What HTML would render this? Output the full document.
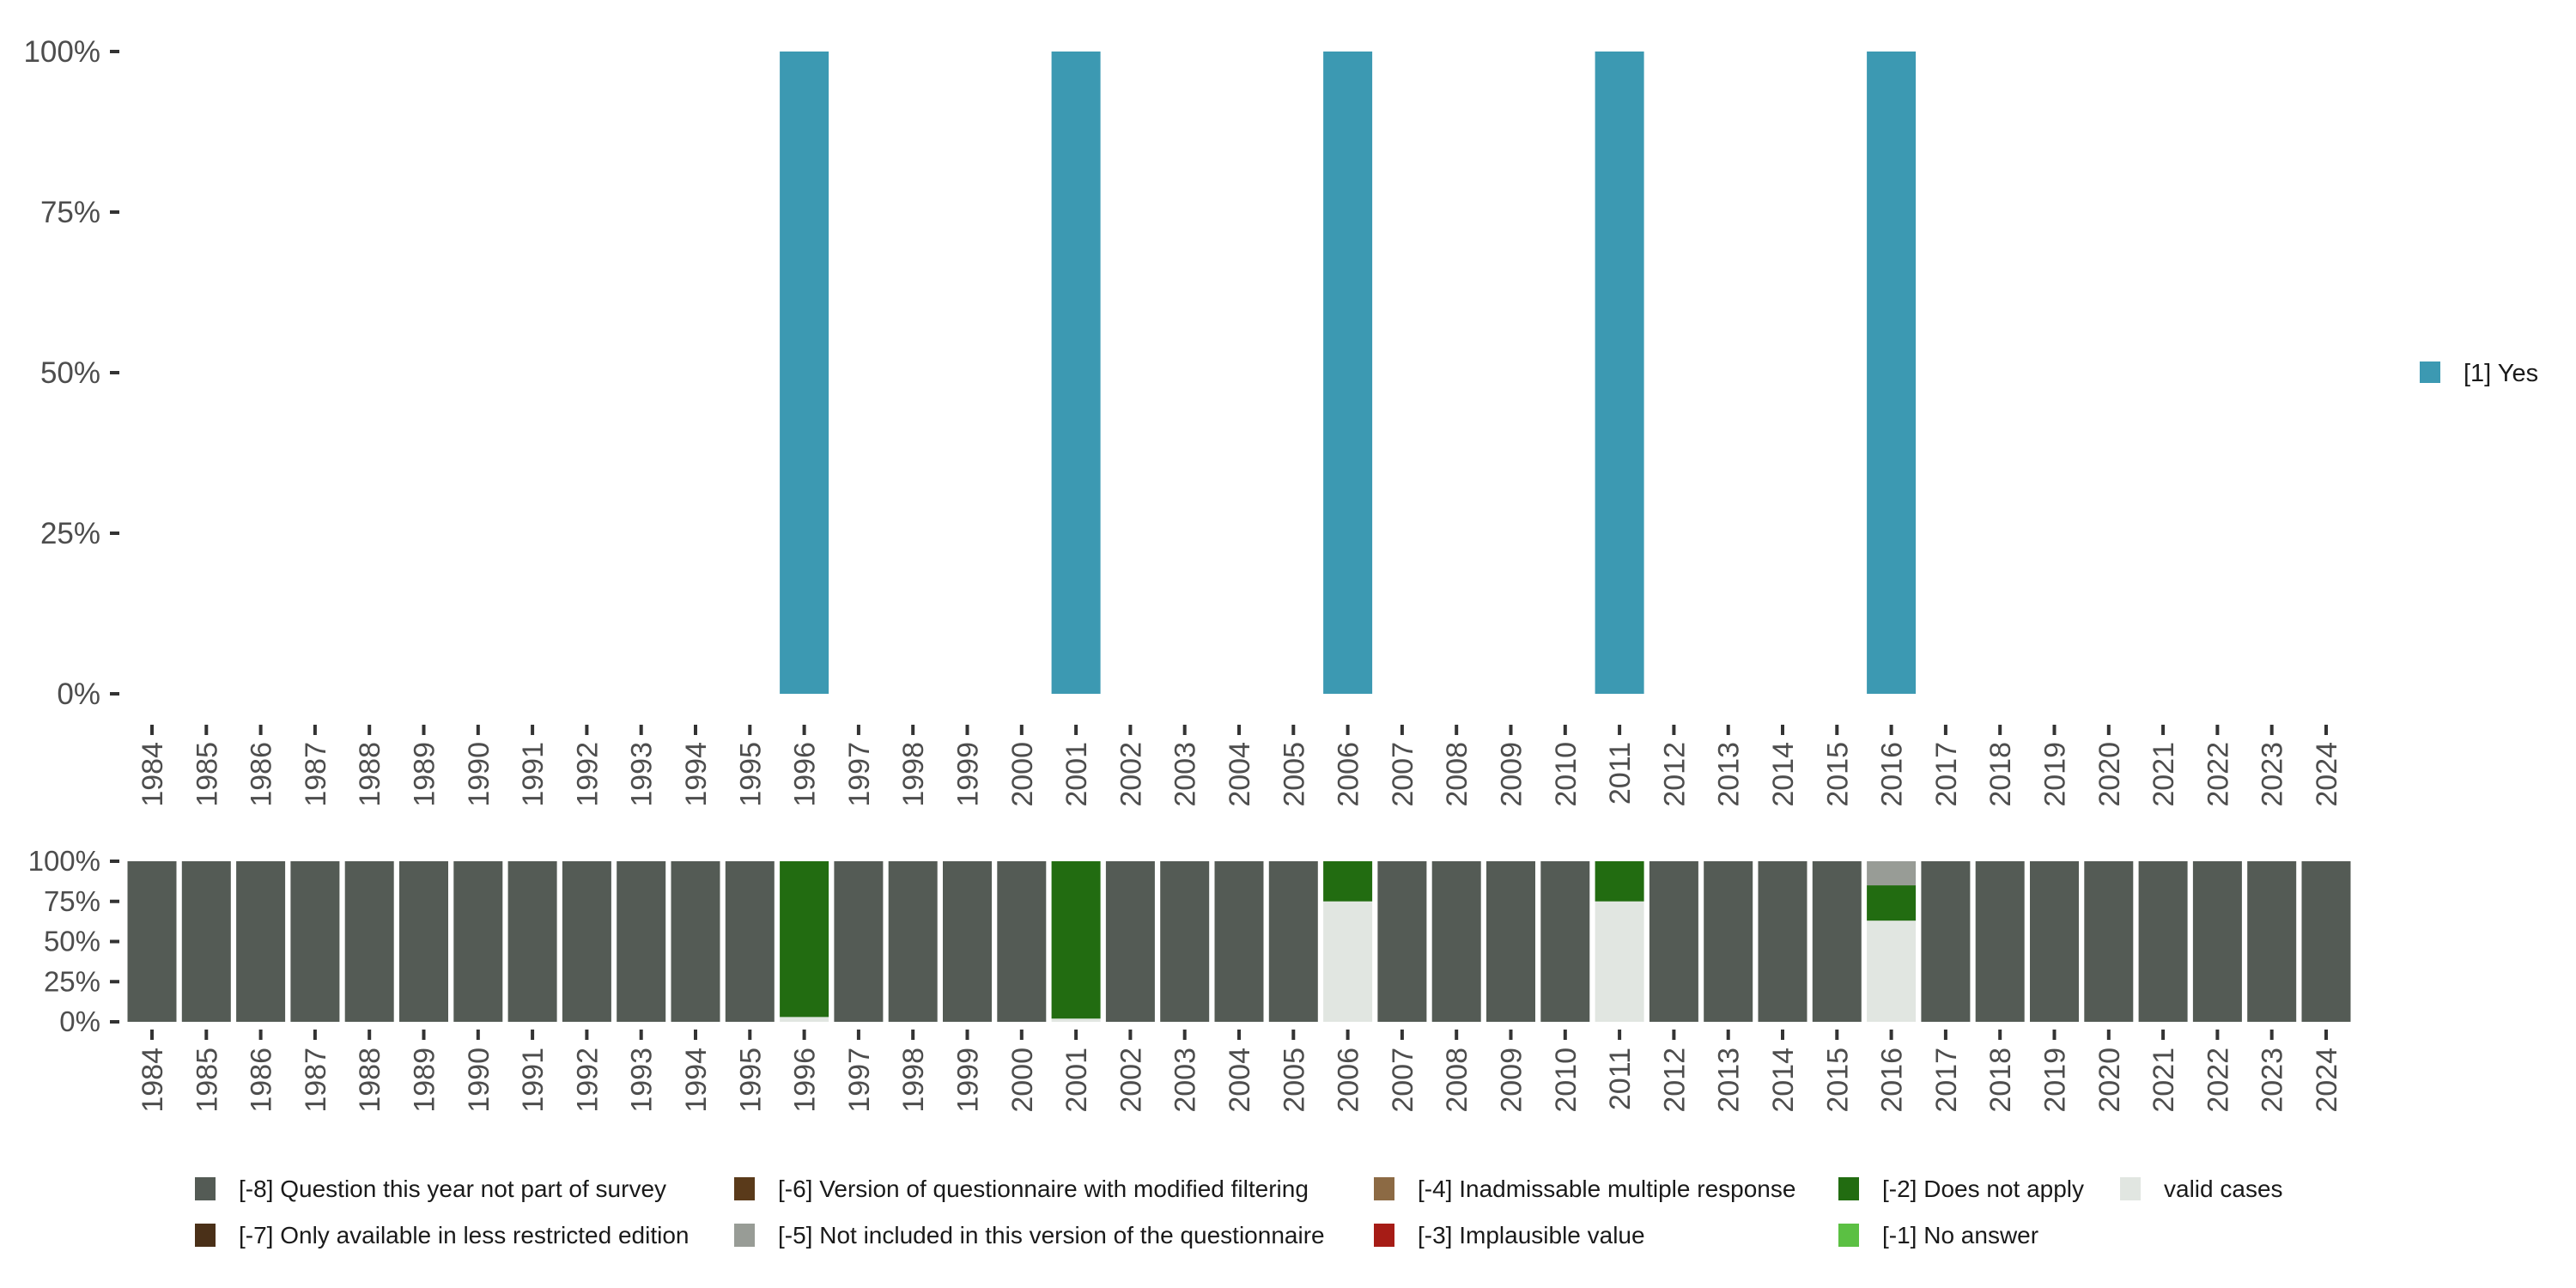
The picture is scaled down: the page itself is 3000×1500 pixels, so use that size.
<!DOCTYPE html>
<html><head><meta charset="utf-8"><style>
html,body{margin:0;padding:0;background:#fff;}
svg{display:block;font-family:"Liberation Sans",sans-serif;}
</style></head><body>
<svg id="chart" width="3000" height="1500" viewBox="0 0 3000 1500" xmlns="http://www.w3.org/2000/svg"></svg>
<script>
const years = [];
for (let y = 1984; y <= 2024; y++) years.push(y);
const yesYears = [1996, 2001, 2006, 2011, 2016];
const yesValues = [1, 1, 1, 1, 1];
const missYears = [1996, 2001, 2006, 2011, 2016];
const validValues = [0.03, 0.02, 0.75, 0.75, 0.63];
const doesNotApplyValues = [0.97, 0.98, 0.25, 0.25, 0.22];
const notIncludedValues = [0, 0, 0, 0, 0.15];
const yTickValues = [0, 0.25, 0.5, 0.75, 1];
const yTickLabels = ["0%", "25%", "50%", "75%", "100%"];
const legendLabels = ["[-8] Question this year not part of survey","[-7] Only available in less restricted edition","[-6] Version of questionnaire with modified filtering","[-5] Not included in this version of the questionnaire","[-4] Inadmissable multiple response","[-3] Implausible value","[-2] Does not apply","[-1] No answer","valid cases"];

const NS = "http://www.w3.org/2000/svg";
const svg = document.getElementById('chart');
function mk(tag, attrs, parent) {
  const e = document.createElementNS(NS, tag);
  for (const k in attrs) e.setAttribute(k, attrs[k]);
  (parent || svg).appendChild(e);
  return e;
}
const C = {m8:"#545b55", m7:"#4a3018", m6:"#5a3a1a", m5:"#989c96", m4:"#8c6a44", m3:"#a61c16", m2:"#226c11", m1:"#5bc043", valid:"#e1e6e1", yes:"#3c99b2"};
const x0 = 177, step = 63.3, bw = 57;
const xPos = yr => x0 + (yr - 1984) * step;
const topY = v => 808 - v * 748;
const botY = v => 1190 - v * 187;

yTickValues.forEach((v, i) => {
  const t = mk('rect', {x:128, y:topY(v)-2, width:11, height:4, fill:"#333"});
  
  
  const l = mk('text', {x:117, y:topY(v)+12, 'text-anchor':'end', 'font-size':35, fill:"#4d4d4d"});
  l.textContent = yTickLabels[i];
  
  
});
yTickValues.forEach((v, i) => {
  const t = mk('rect', {x:128, y:botY(v)-2, width:11, height:4, fill:"#333"});
  
  
  const l = mk('text', {x:117, y:botY(v)+11, 'text-anchor':'end', 'font-size':33, fill:"#4d4d4d"});
  l.textContent = yTickLabels[i];
  
  
});
years.forEach(yr => {
  const x = xPos(yr);
  [[844, 864], [1199, 1220]].forEach((p, j) => {
    const t = mk('rect', {x:x-2, y:p[0], width:4, height:12, fill:"#333"});
    
    
    const l = mk('text', {x:0, y:0, 'text-anchor':'end', 'font-size':34, fill:"#4d4d4d",
      transform:`translate(${x+12},${p[1]}) rotate(-90)`});
    l.textContent = yr;
    
    
  });
});
yesYears.forEach((yr, i) => {
  const b = mk('rect', {x:xPos(yr)-bw/2, y:topY(yesValues[i]), width:bw, height:topY(0)-topY(yesValues[i]), fill:C.yes});
  
  
});
years.forEach(yr => {
  const i = missYears.indexOf(yr);
  let segs;
  if (i < 0) segs = [[1, C.m8, 'not-part']];
  else segs = [[validValues[i], C.valid, 'valid'], [doesNotApplyValues[i], C.m2, 'does-not-apply'], [notIncludedValues[i], C.m5, 'not-included']];
  let acc = 0;
  segs.forEach(s => {
    if (s[0] <= 0) return;
    const b = mk('rect', {x:xPos(yr)-bw/2, y:botY(acc + s[0]), width:bw, height:botY(acc)-botY(acc+s[0]), fill:s[1]});
    
    
    acc += s[0];
  });
});
const ly = mk('rect', {x:2818, y:421, width:24, height:25, fill:C.yes});


const lyt = mk('text', {x:2869, y:444, 'font-size':29, fill:"#1a1a1a"});
lyt.textContent = "[1] Yes";


const legendColors = [C.m8, C.m7, C.m6, C.m5, C.m4, C.m3, C.m2, C.m1, C.valid];
const colX = [227, 855, 1600, 2141, 2469];
const rowY = [1371, 1425];
legendLabels.forEach((lab, i) => {
  const col = Math.floor(i / 2), row = i % 2;
  const s = mk('rect', {x:colX[col], y:rowY[row], width:24, height:27, fill:legendColors[i]});
  
  
  const t = mk('text', {x:colX[col]+51, y:rowY[row]+23, 'font-size':28, fill:"#1a1a1a"});
  t.textContent = lab;
  
  
});
</script>
</body></html>
